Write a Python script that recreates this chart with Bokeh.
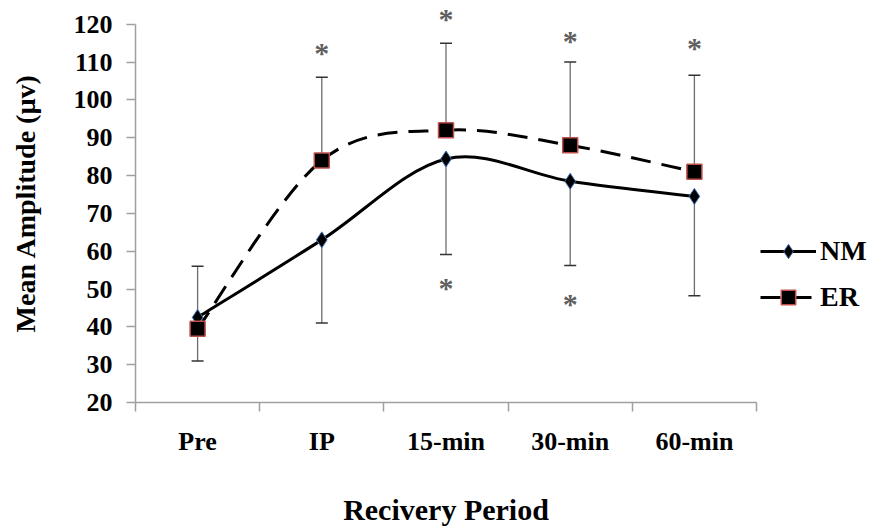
from bokeh.plotting import figure
from bokeh.models import (FixedTicker, Whisker, TeeHead, ColumnDataSource,
                          Legend, LegendItem, Range1d, Title)
from bokeh.core.properties import value
from bokeh.embed import file_html
from bokeh.resources import INLINE

# ---- data ----
categories = ["Pre", "IP", "15-min", "30-min", "60-min"]
nm_values = [42.5, 63.0, 84.4, 78.5, 74.5]
er_values = [39.5, 84.0, 92.0, 88.0, 81.0]
er_err_plus = [16.5, 22.0, 23.0, 22.0, 25.5]
nm_err_minus = [11.5, 22.0, 25.3, 22.3, 26.3]
sig_upper_cats = ["IP", "15-min", "30-min", "60-min"]
sig_upper_vals = [113.4, 122.4, 116.4, 114.7]
sig_lower_cats = ["15-min", "30-min"]
sig_lower_vals = [51.2, 47.0]
y_ticks = [20, 30, 40, 50, 60, 70, 80, 90, 100, 110, 120]

FONT = "Liberation Serif"
xpos = list(range(len(categories)))
pos = {c: i for i, c in enumerate(categories)}


def smooth_segments(xs, ys):
    """Catmull-Rom style bezier segments (like Excel smoothed lines)."""
    n = len(xs)
    seg = dict(x0=[], y0=[], x1=[], y1=[], cx0=[], cy0=[], cx1=[], cy1=[])
    for i in range(n - 1):
        a = max(i - 1, 0)
        d = min(i + 2, n - 1)
        seg["x0"].append(xs[i]); seg["y0"].append(ys[i])
        seg["x1"].append(xs[i + 1]); seg["y1"].append(ys[i + 1])
        seg["cx0"].append(xs[i] + (xs[i + 1] - xs[a]) / 6.0)
        seg["cy0"].append(ys[i] + (ys[i + 1] - ys[a]) / 6.0)
        seg["cx1"].append(xs[i + 1] - (xs[d] - xs[i]) / 6.0)
        seg["cy1"].append(ys[i + 1] - (ys[d] - ys[i]) / 6.0)
    return ColumnDataSource(seg)


p = figure(frame_width=621, frame_height=399, output_backend="svg", toolbar_location=None,
           x_range=Range1d(-0.5, 4.5), y_range=Range1d(20, 125.5),
           min_border_left=135, min_border_right=115,
           min_border_top=3, min_border_bottom=20)
p.outline_line_color = None
p.grid.visible = False
p.background_fill_color = "white"

# error bars
nm_src = ColumnDataSource(dict(x=xpos, upper=nm_values,
                               lower=[v - e for v, e in zip(nm_values, nm_err_minus)]))
er_src = ColumnDataSource(dict(x=xpos, lower=er_values,
                               upper=[v + e for v, e in zip(er_values, er_err_plus)]))
w1 = Whisker(source=nm_src, base="x", upper="upper", lower="lower",
             line_color="#6e6e6e", line_width=1.3, upper_head=None,
             lower_head=TeeHead(size=12, line_color="#333333", line_width=1.5))
w2 = Whisker(source=er_src, base="x", upper="upper", lower="lower",
             line_color="#6e6e6e", line_width=1.3, lower_head=None,
             upper_head=TeeHead(size=12, line_color="#333333", line_width=1.5))
p.add_layout(w1)
p.add_layout(w2)

# smoothed lines
er_seg = smooth_segments(xpos, er_values)
nm_seg = smooth_segments(xpos, nm_values)
p.bezier(x0="x0", y0="y0", x1="x1", y1="y1", cx0="cx0", cy0="cy0",
         cx1="cx1", cy1="cy1", source=er_seg, line_color="black",
         line_width=3, line_dash="20 11")
p.bezier(x0="x0", y0="y0", x1="x1", y1="y1", cx0="cx0", cy0="cy0",
         cx1="cx1", cy1="cy1", source=nm_seg, line_color="black",
         line_width=3)

# line glyphs used only for the legend swatches
nm_leg_line = p.line(xpos, nm_values, line_color="black", line_width=3, visible=False)
er_leg_line = p.line(xpos, er_values, line_color="black", line_width=3,
                     line_dash="20 11", visible=False)

nm_pts = p.scatter(xpos, nm_values, marker="diamond", size=16,
                   fill_color="black", line_color="#3d6fb0", line_width=1)
er_pts = p.scatter(xpos, er_values, marker="square", size=15,
                   fill_color="black", line_color="#c0504d", line_width=1.5)

# significance asterisks
for cats, vals in ((sig_upper_cats, sig_upper_vals), (sig_lower_cats, sig_lower_vals)):
    p.text(x=[pos[c] for c in cats], y=vals, text=["*"] * len(cats),
           text_font=value(FONT), text_font_size="30px", text_font_style="bold",
           text_color="#5f5f5f", text_align="center", text_baseline="alphabetic",
           y_offset=3)

# axes
yax = p.yaxis[0]
yax.ticker = FixedTicker(ticks=y_ticks, minor_ticks=[])
yax.bounds = (20, 120)
yax.axis_line_color = "#a0a0a0"
yax.axis_line_width = 1.5
yax.major_tick_line_color = "#a0a0a0"
yax.major_tick_line_width = 1.5
yax.major_tick_out = 9
yax.major_tick_in = 0
yax.minor_tick_line_color = None
yax.major_label_text_font = FONT
yax.major_label_text_font_style = "bold"
yax.major_label_text_font_size = "26px"
yax.major_label_text_color = "black"
yax.major_label_standoff = 14
yax.axis_label = "Mean Amplitude (µv)"
yax.axis_label_text_font = FONT
yax.axis_label_text_font_style = "bold"
yax.axis_label_text_font_size = "28px"
yax.axis_label_text_color = "black"
yax.axis_label_standoff = 30

xax = p.xaxis[0]
xax.ticker = FixedTicker(ticks=xpos, minor_ticks=[i - 0.5 for i in range(len(categories) + 1)])
xax.major_label_overrides = {i: c for i, c in enumerate(categories)}
xax.axis_line_color = "#a0a0a0"
xax.axis_line_width = 1.5
xax.major_tick_line_color = None
xax.major_tick_out = 0
xax.major_tick_in = 0
xax.minor_tick_line_color = "#a0a0a0"
xax.minor_tick_line_width = 1.5
xax.minor_tick_out = 9
xax.minor_tick_in = 0
xax.major_label_text_font = FONT
xax.major_label_text_font_style = "bold"
xax.major_label_text_font_size = "26px"
xax.major_label_text_color = "black"
xax.major_label_standoff = 15

p.add_layout(Title(text="Recivery Period", align="center", offset=-17, standoff=65,
                   text_font=FONT, text_font_style="bold", text_font_size="30px",
                   text_color="black"), "below")

legend = Legend(items=[LegendItem(label="NM", renderers=[nm_leg_line, nm_pts]),
                       LegendItem(label="ER", renderers=[er_leg_line, er_pts])],
                location=(4, 87), orientation="vertical",
                border_line_color=None, background_fill_alpha=0,
                padding=0, margin=0, spacing=10,
                glyph_width=56, glyph_height=36, label_standoff=4,
                label_text_font=FONT, label_text_font_style="bold",
                label_text_font_size="28px", label_text_color="black",
                label_text_baseline="middle")
p.add_layout(legend, "right")

open("out.html", "w").write(file_html(p, INLINE))
